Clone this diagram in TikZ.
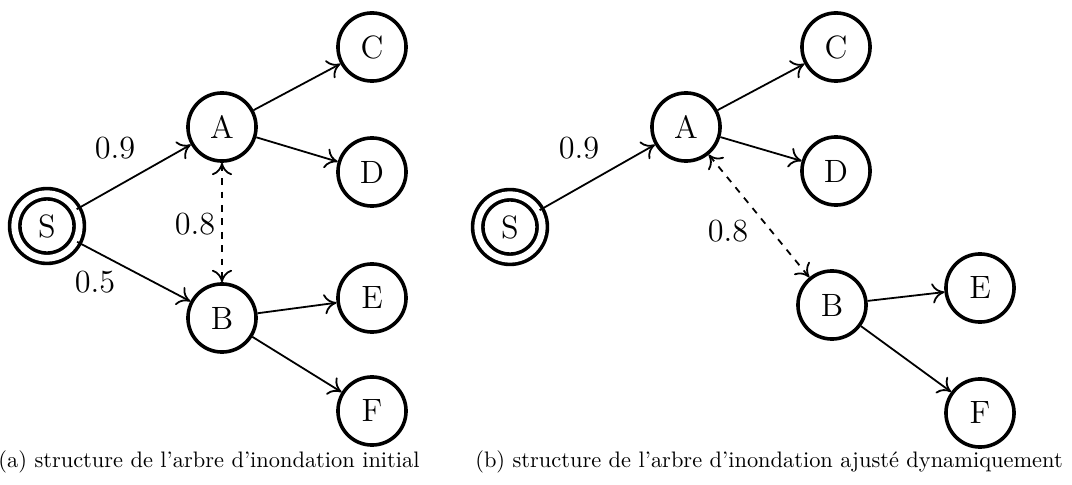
\documentclass[tikz,border=0pt]{standalone}
\usepackage{fontspec}
\usetikzlibrary{arrows.meta}
\begin{document}
\begin{tikzpicture}[x=0.4464pt,y=-0.4464pt,
  st/.style={circle,draw,line width=1.6pt,minimum size=30.4pt,inner sep=0pt,font=\Large},
  src/.style={circle,draw,double,line width=1.6pt,double distance=3pt,minimum size=28.8pt,inner sep=0pt,font=\Large},
  ed/.style={-{To[length=5.5pt,width=9pt]},thick},
  dd/.style={{To[length=5.5pt,width=9pt]}-{To[length=5.5pt,width=9pt]},thick,dashed},
  lab/.style={font=\Large,inner sep=0pt},
  captxt/.style={font=\normalsize,inner sep=0pt}]
\useasboundingbox (0,0) rectangle (1072,485);
% (a)
\node[src] (S1) at (47,226) {S};
\node[st] (A1) at (222,127) {A};
\node[st] (B1) at (222,318) {B};
\node[st] (C1) at (372,47) {C};
\node[st] (D1) at (372,172) {D};
\node[st] (E1) at (372,298) {E};
\node[st] (F1) at (372,411) {F};
\draw[ed] (S1) -- (A1);
\draw[ed] (S1) -- (B1);
\draw[ed] (A1) -- (C1);
\draw[ed] (A1) -- (D1);
\draw[ed] (B1) -- (E1);
\draw[ed] (B1) -- (F1);
\draw[dd] (A1) -- (B1);
\node[lab] (l1) at (115,148) {0.9};
\node[lab] (l2) at (95,282) {0.5};
\node[lab] (l3) at (195,224) {0.8};
\node[captxt] (ca) at (209,462) {(a) structure de l'arbre d'inondation initial};
% (b)
\node[src] (S2) at (510,227) {S};
\node[st] (A2) at (686,127) {A};
\node[st] (B2) at (832,305) {B};
\node[st] (C2) at (836,47) {C};
\node[st] (D2) at (836,171) {D};
\node[st] (E2) at (980,288) {E};
\node[st] (F2) at (980,413) {F};
\draw[ed] (S2) -- (A2);
\draw[ed] (A2) -- (C2);
\draw[ed] (A2) -- (D2);
\draw[ed] (B2) -- (E2);
\draw[ed] (B2) -- (F2);
\draw[dd] (A2) -- (B2);
\node[lab] (l4) at (579,148) {0.9};
\node[lab] (l5) at (728,231) {0.8};
\node[captxt] (cb) at (769,462) {(b) structure de l'arbre d'inondation ajusté dynamiquement};
\end{tikzpicture}
\end{document}
